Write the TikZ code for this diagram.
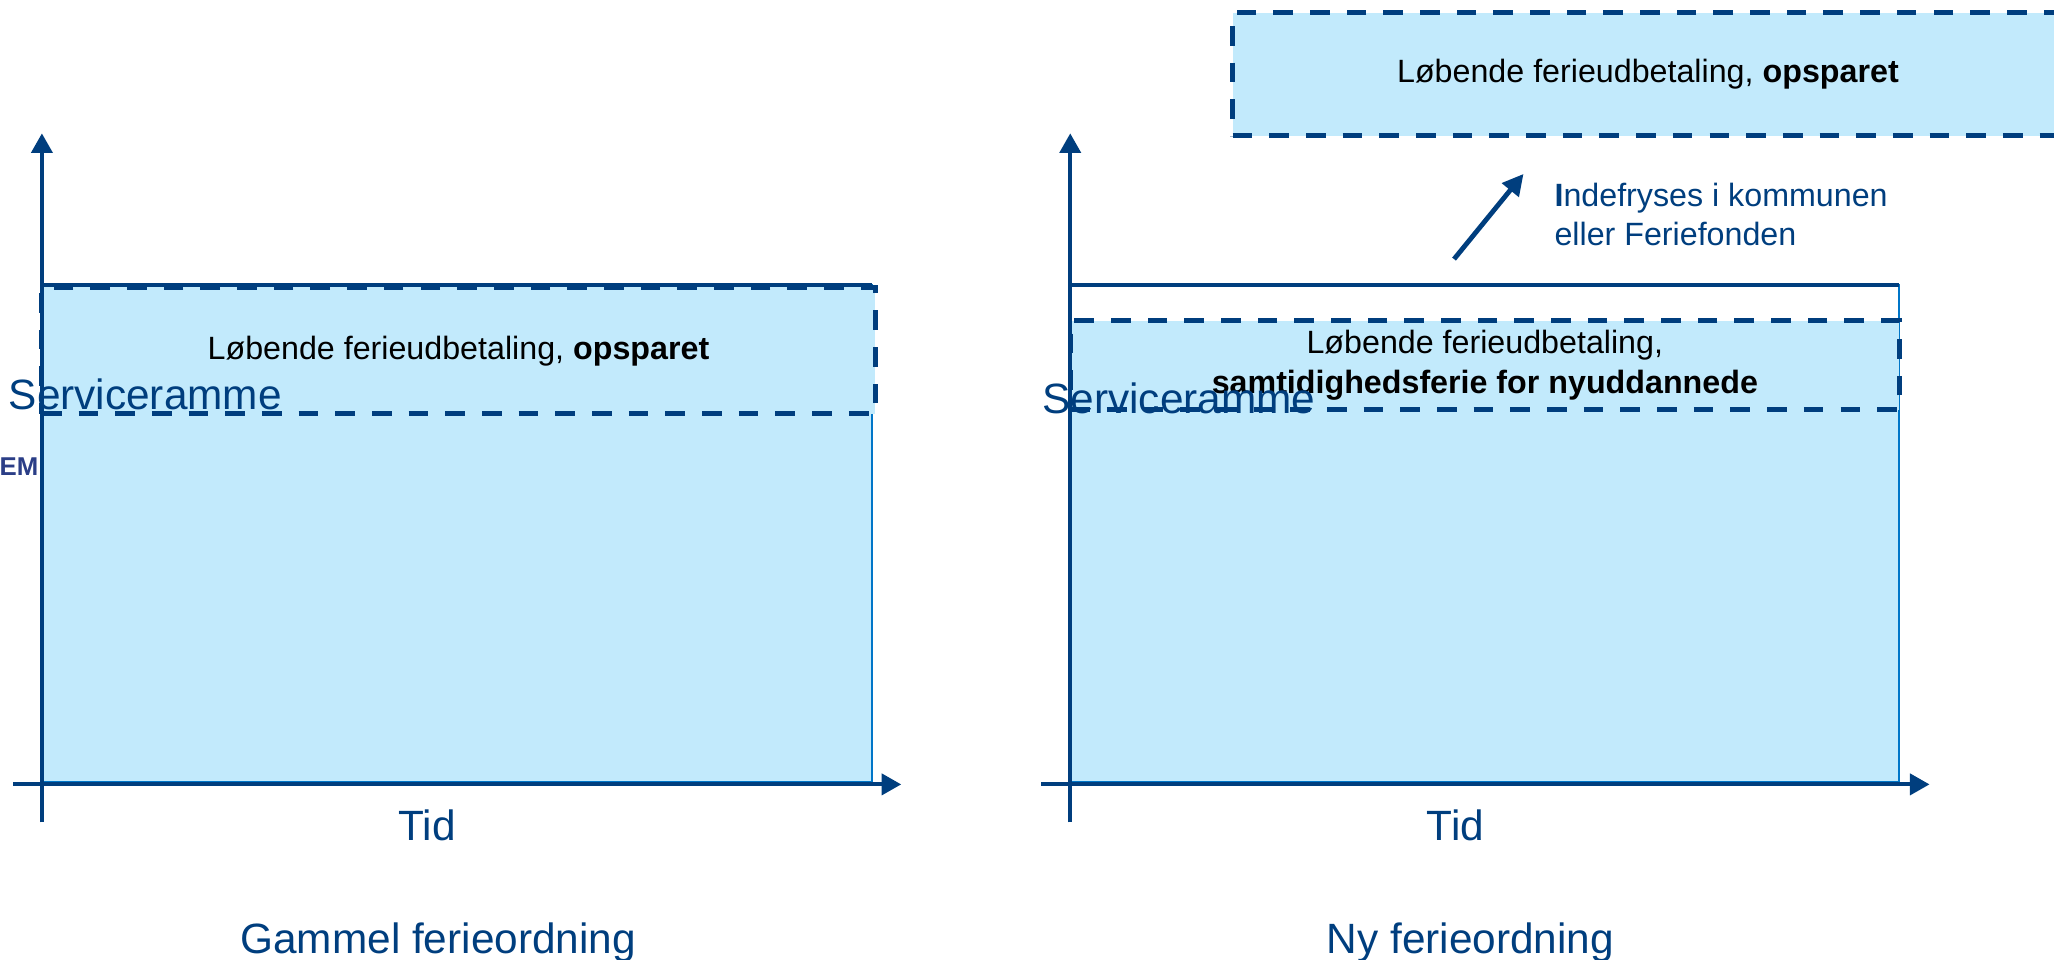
\documentclass[tikz,border=0pt]{standalone}
\usepackage{fontspec}
\setmainfont{Liberation Sans}
\usepackage{xcolor}
\usetikzlibrary{arrows.meta,positioning}
\definecolor{ferienavy}{RGB}{0,62,126}
\definecolor{feriefill}{RGB}{194,234,252}
\definecolor{ferieedge}{RGB}{0,118,200}
\definecolor{feriemark}{RGB}{43,62,135}
\newcommand{\boxfont}{\fontsize{7pt}{8.8pt}\selectfont}
\newcommand{\axisfont}{\fontsize{9.2pt}{11pt}\selectfont}

\begin{document}
\begin{tikzpicture}[
    dashbox/.style={rectangle, draw=ferienavy, fill=feriefill, line width=1.1pt, dash pattern=on 0.15cm off 0.13cm, inner sep=0pt, align=center, font=\boxfont},
    axis/.style={-{Triangle[width=0.16cm,length=0.15cm]}, draw=ferienavy, line width=0.9pt},
    axistext/.style={inner sep=0pt, text=ferienavy, font=\axisfont},
    frame/.style={draw=ferieedge, line width=0.45pt},
    topline/.style={draw=ferienavy, line width=0.85pt}
]
\useasboundingbox (0,0) rectangle (15.68,7.328);

% Gammel ferieordning
\fill[feriefill] (0.32,1.36) rectangle (6.66,5.15);
\draw[frame] (0.32,1.36) rectangle (6.66,5.15);
\draw[topline] (0.32,5.15) -- (6.66,5.15);
\node[dashbox, minimum width=6.36cm, minimum height=0.96cm] (oldsaved) at (3.50,4.65) {Løbende ferieudbetaling, \textbf{opsparet}};

\coordinate (oldybot) at (0.32,1.05);
\coordinate (oldytop) at (0.32,6.31);
\coordinate (oldxleft) at (0.10,1.34);
\coordinate (oldxright) at (6.88,1.34);
\draw[axis] (oldybot) -- (oldytop);
\draw[axis] (oldxleft) -- (oldxright);

\node[axistext, anchor=base west] (oldservice) at (0.06,4.205) {Serviceramme};
\node[inner sep=0pt, anchor=base east, text=feriemark, font=\fontsize{5.6pt}{6.5pt}\selectfont\bfseries] (oldmark) at (0.30,3.70) {EM};
\node[axistext, anchor=base] (oldtime) at (3.26,0.915) {Tid};
\node[axistext, anchor=base] (oldtitle) at (3.345,0.05) {Gammel ferieordning};

% Ny ferieordning
\fill[feriefill] (8.17,1.36) rectangle (14.50,4.88);
\draw[frame] (8.17,1.36) rectangle (14.50,5.15);
\draw[topline] (8.17,5.15) -- (14.50,5.15);
\node[dashbox, minimum width=6.33cm, minimum height=0.68cm] (newsimul) at (11.335,4.54) {Løbende ferieudbetaling,\\\textbf{samtidighedsferie for nyuddannede}};
\node[dashbox, minimum width=6.34cm, minimum height=0.94cm] (newsaved) at (12.58,6.76) {Løbende ferieudbetaling, \textbf{opsparet}};

\coordinate (newybot) at (8.17,1.05);
\coordinate (newytop) at (8.17,6.31);
\coordinate (newxleft) at (7.95,1.34);
\coordinate (newxright) at (14.73,1.34);
\draw[axis] (newybot) -- (newytop);
\draw[axis] (newxleft) -- (newxright);

% Indefrysning
\coordinate (frzstart) at (11.10,5.35);
\coordinate (frzend) at (11.63,6.00);
\draw[-{Triangle[width=0.16cm,length=0.16cm]}, draw=ferienavy, line width=1.05pt] (frzstart) -- (frzend);
\node[inner sep=0pt, anchor=west, align=left, text=ferienavy, font=\fontsize{7pt}{8.3pt}\selectfont] (frznote) at (11.86,5.69) {\textbf{I}ndefryses i kommunen\\eller Feriefonden};

\node[axistext, anchor=base west] (newservice) at (7.95,4.17) {Serviceramme};
\node[axistext, anchor=base] (newtime) at (11.11,0.915) {Tid};
\node[axistext, anchor=base] (newtitle) at (11.225,0.05) {Ny ferieordning};

\end{tikzpicture}
\end{document}
